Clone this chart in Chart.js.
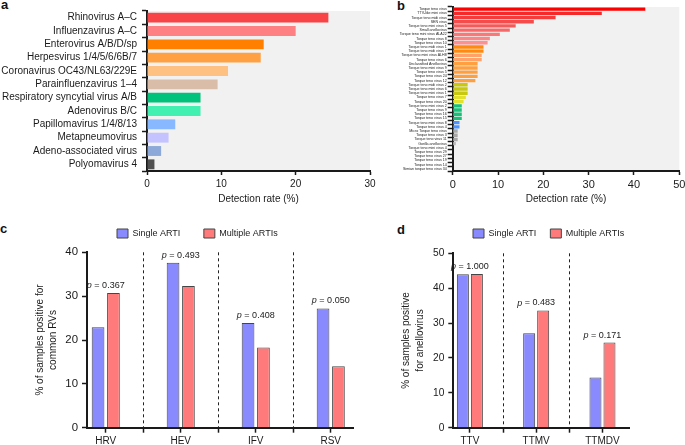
<!DOCTYPE html>
<html>
<head>
<meta charset="utf-8">
<script src="https://cdn.jsdelivr.net/npm/chart.js@4.4.1/dist/chart.umd.min.js"></script>
<style>
  html, body { margin: 0; padding: 0; background: #fff; }
  body { width: 685px; height: 445px; position: relative; overflow: hidden; }
  canvas { position: absolute; }
  .tag { position: absolute; font: bold 13px "Liberation Sans", Arial, sans-serif; line-height: 13px; color: #111; }
</style>
</head>
<body>
<div class="tag" style="left:1px;top:-2px">a</div>
<div class="tag" style="left:397px;top:-1px">b</div>
<div class="tag" style="left:0px;top:222px">c</div>
<div class="tag" style="left:397px;top:223px">d</div>
<canvas id="chartA" width="380" height="212" style="left:0;top:0"></canvas>
<canvas id="chartB" width="355" height="212" style="left:340px;top:0"></canvas>
<canvas id="chartC" width="380" height="220" style="left:0;top:225px"></canvas>
<canvas id="chartD" width="345" height="220" style="left:340px;top:225px"></canvas>
<script>
// panel a
var virusNames = ["Rhinovirus A\u2013C", "Influenzavirus A\u2013C", "Enterovirus A/B/D/sp", "Herpesvirus 1/4/5/6/6B/7",
  "Coronavirus OC43/NL63/229E", "Parainfluenzavirus 1\u20134", "Respiratory syncytial virus A/B", "Adenovirus B/C",
  "Papillomavirus 1/4/8/13", "Metapneumovirus", "Adeno-associated virus", "Polyomavirus 4"];
var virusRates = [24.4, 20.0, 15.7, 15.3, 10.9, 9.5, 7.2, 7.2, 3.8, 2.9, 1.9, 1.0];
var virusColors = ["#f84447", "#ff8082", "#ff8000", "#ffa142", "#ffc182", "#d9bda9", "#00c27a", "#42f0b2",
  "#88b8ff", "#c4c2ff", "#8ca9d9", "#505050"];

// panel b
var anelloNames = ["Torque teno virus", "TTV-like mini virus", "Torque teno midi virus", "SEN virus",
  "Torque teno mini virus 5", "Small anellovirus", "Torque teno mini virus ALA22", "Torque teno virus 8",
  "Torque teno virus 10", "Torque teno midi virus 1", "Torque teno midi virus 7", "Torque teno mini virus ALH8",
  "Torque teno virus 6", "Unclassified Anellovirus", "Torque teno mini virus 9", "Torque teno virus 5",
  "Torque teno virus 24", "Torque teno virus 12", "Torque teno midi virus 2", "Torque teno mini virus 6",
  "Torque teno mini virus 1", "Torque teno virus 7", "Torque teno virus 20", "Torque teno mini virus 2",
  "Torque teno virus 9", "Torque teno virus 16", "Torque teno virus 15", "Torque teno mini virus 8",
  "Torque teno virus 4", "Micro Torque teno virus", "Torque teno virus 3", "Torque teno virus 11",
  "Gorilla anellovirus", "Torque teno mini virus 4", "Torque teno virus 29", "Torque teno virus 27",
  "Torque teno virus 19", "Torque teno virus 14", "Simian torque teno virus 34"];
var anelloRates = [42.5, 32.9, 22.7, 17.9, 13.9, 12.6, 10.4, 8.2, 7.7, 6.8, 6.8, 6.4, 6.4, 5.5, 5.5, 5.5, 5.5, 5.0,
  3.3, 3.3, 3.3, 2.9, 2.4, 2.0, 2.0, 2.0, 2.0, 1.5, 1.5, 1.1, 1.1, 1.1, 0.7, 0.25, 0.25, 0.25, 0.25, 0.25, 0.25];
var anelloColors = ["#fe0000", "#f42a2a", "#f43c3c", "#f44c4c", "#f55a5a", "#f86868", "#fa7878", "#fc8686", "#fd9090",
  "#ff8a10", "#ff8a10", "#ffa26a", "#ffa26a", "#ffa040", "#ffa040", "#ffa040", "#ffa040", "#ffa040",
  "#c8c810", "#c8c810", "#c8c810", "#e2e22e", "#e2e22e", "#18c078", "#18c078", "#18c078", "#18c078",
  "#4c94ff", "#4c94ff", "#a8a8a8", "#a8a8a8", "#a8a8a8", "#bcbcbc",
  "#1a1a1a", "#1a1a1a", "#1a1a1a", "#1a1a1a", "#1a1a1a", "#1a1a1a"];

// panel c
var rvGroups = ["HRV", "HEV", "IFV", "RSV"];
var rvSingle = [22.9, 37.6, 23.9, 27.2];
var rvMultiple = [30.7, 32.3, 18.3, 14.0];
var rvP = ["0.367", "0.493", "0.408", "0.050"];

// panel d
var anGroups = ["TTV", "TTMV", "TTMDV"];
var anSingle = [44.0, 27.1, 14.4];
var anMultiple = [44.1, 33.6, 24.4];
var anP = ["1.000", "0.483", "0.171"];

var FONT = '"Liberation Sans", Arial, sans-serif';
var INK = "#1a1a1a";
Chart.defaults.font.family = FONT;
Chart.defaults.color = INK;

var plotBg = {
  id: "plotBg",
  beforeDraw: function (chart, args, opts) {
    var a = chart.chartArea, ctx = chart.ctx;
    ctx.save();
    ctx.fillStyle = opts.color;
    ctx.fillRect(a.left, a.top, a.right - a.left, a.bottom - a.top);
    ctx.restore();
  }
};

// puts the legend row where the figure has it
var legendSpot = {
  id: "legendSpot",
  beforeInit: function (chart) {
    var fit = chart.legend.fit;
    chart.legend.fit = function () {
      this.maxWidth = chart.width;
      fit.call(this);
      this.height = chart.options.plugins.legendSpot.height;
    };
  },
  afterLayout: function (chart, args, opts) {
    var pad = chart.options.plugins.legend.labels.padding;
    chart.legend.left = opts.x - pad;
    chart.legend.right = chart.width;
    chart.legend.top = opts.y - pad;
  }
};

var pLabels = {
  id: "pLabels",
  afterDatasetsDraw: function (chart, args, opts) {
    var ctx = chart.ctx, xs = chart.scales.x, ys = chart.scales.y;
    var sets = chart.data.datasets;
    opts.values.forEach(function (p, i) {
      var top = Math.max(sets[0].data[i].y, sets[1].data[i].y);
      var cx = xs.getPixelForValue(i);
      var cy = ys.getPixelForValue(top) - 7.5;
      var rest = " = " + p;
      ctx.save();
      ctx.textBaseline = "middle";
      ctx.textAlign = "left";
      ctx.fillStyle = INK;
      ctx.font = "italic 9px " + FONT;
      var w1 = ctx.measureText("p").width;
      ctx.font = "9px " + FONT;
      var w2 = ctx.measureText(rest).width;
      var sx = cx - (w1 + w2) / 2;
      ctx.font = "italic 9px " + FONT;
      ctx.fillText("p", sx, cy);
      ctx.font = "9px " + FONT;
      ctx.fillText(rest, sx + w1, cy);
      ctx.restore();
    });
  }
};

function rateChart(id, names, rates, colors, o) {
  return new Chart(document.getElementById(id), {
    type: "bar",
    data: {
      labels: names,
      datasets: [{ data: rates, backgroundColor: colors, barPercentage: o.bar, categoryPercentage: 1 }]
    },
    options: {
      indexAxis: "y",
      responsive: false,
      animation: false,
      devicePixelRatio: 1,
      layout: { padding: { top: 7, right: o.right } },
      plugins: { legend: { display: false }, tooltip: { enabled: false }, plotBg: { color: "#f1f1f1" } },
      scales: {
        x: {
          min: 0, max: o.max,
          ticks: { stepSize: 10, font: { size: o.xfont }, color: INK, padding: 3, maxRotation: 0 },
          grid: { drawOnChartArea: false, tickLength: 4, tickColor: INK, tickWidth: 1.5 },
          border: { color: INK, width: 2 },
          title: { display: true, text: "Detection rate (%)", font: { size: 10 }, color: INK, padding: { top: 0, bottom: 7 } },
          afterFit: function (s) { s.height = 41; }
        },
        y: {
          ticks: { font: { size: o.yfont }, color: INK, padding: o.ypad, autoSkip: false },
          grid: { drawOnChartArea: false, tickLength: 5, tickColor: INK, tickWidth: o.tickW },
          border: { color: INK, width: 2 },
          afterFit: function (s) { s.width = o.left; }
        }
      }
    },
    plugins: [plotBg]
  });
}

function groupChart(id, groups, single, multiple, pvals, o) {
  var tickVals = [];
  for (var v = 0; v <= groups.length - 1; v += 0.5) tickVals.push(v);
  return new Chart(document.getElementById(id), {
    type: "bar",
    data: {
      datasets: [
        { label: "Single ARTI", data: single.map(function (v, i) { return { x: i, y: v }; }),
          backgroundColor: "#8a8aff", borderColor: "#454545", borderWidth: 1,
          categoryPercentage: o.cat, barPercentage: o.bar },
        { label: "Multiple ARTIs", data: multiple.map(function (v, i) { return { x: i, y: v }; }),
          backgroundColor: "#ff7b7b", borderColor: "#454545", borderWidth: 1,
          categoryPercentage: o.cat, barPercentage: o.bar }
      ]
    },
    options: {
      responsive: false,
      animation: false,
      devicePixelRatio: 1,
      layout: { padding: { right: o.right } },
      plugins: {
        legend: {
          display: true, position: "top", align: "start", fullSize: true,
          labels: { boxWidth: 11, boxHeight: 9, padding: o.legPad, font: { size: 9 }, color: INK }
        },
        legendSpot: { height: o.top, x: o.legX, y: 4 },
        tooltip: { enabled: false },
        pLabels: { values: pvals }
      },
      scales: {
        x: {
          type: "linear", min: -0.25, max: o.xmax, offset: false,
          afterBuildTicks: function (s) { s.ticks = tickVals.map(function (v) { return { value: v }; }); },
          ticks: {
            callback: function (v) { return Number.isInteger(v) ? groups[v] : ""; },
            font: { size: 10 }, color: INK, padding: 3, maxRotation: 0, autoSkip: false
          },
          grid: {
            offset: false,
            drawOnChartArea: true,
            color: function (c) { return c.tick && !Number.isInteger(c.tick.value) ? "#222" : "rgba(0,0,0,0)"; },
            lineWidth: 1, tickLength: 5, tickColor: INK, tickWidth: 1.5, tickBorderDash: []
          },
          border: { color: INK, width: 2, dash: [3, 3] },
          afterFit: function (s) { s.height = 17.3; }
        },
        y: {
          min: 0, max: o.ymax,
          ticks: { stepSize: 10, font: { size: o.yfont }, color: INK, padding: 4 },
          grid: { drawOnChartArea: false, tickLength: 5, tickColor: INK, tickWidth: 1.5 },
          border: { color: INK, width: 2 },
          title: { display: true, text: o.ytitle, font: { size: 10, lineHeight: o.lh }, color: INK, padding: { top: o.tpad, bottom: 0 } },
          afterFit: function (s) { s.width = o.left; }
        }
      }
    },
    plugins: [legendSpot, pLabels]
  });
}

rateChart("chartA", virusNames, virusRates, virusColors,
  { max: 30, right: 10, left: 147, bar: 0.74, xfont: 10, yfont: 10, ypad: 5, tickW: 1.5 });
rateChart("chartB", anelloNames, anelloRates, anelloColors,
  { max: 50, right: 15.7, left: 112.7, bar: 0.8, xfont: 11, yfont: 3.6, ypad: 1, tickW: 1.5 });

groupChart("chartC", rvGroups, rvSingle, rvMultiple, rvP,
  { right: 26.75, left: 87, xmax: 3.3, ymax: 40, top: 27.3, legX: 117, legPad: 23.5,
    cat: 0.821, bar: 0.825, yfont: 11.4, lh: 1.3, tpad: 33.5,
    ytitle: ["% of samples positive for", "common RVs"] });
groupChart("chartD", anGroups, anSingle, anMultiple, anP,
  { right: 56, left: 113.3, xmax: 2.4, ymax: 50, top: 28.3, legX: 133, legPad: 14,
    cat: 0.845, bar: 0.857, yfont: 10.2, lh: 1.33, tpad: 60,
    ytitle: ["% of samples positive", "for anellovirus"] });
</script>
</body>
</html>
